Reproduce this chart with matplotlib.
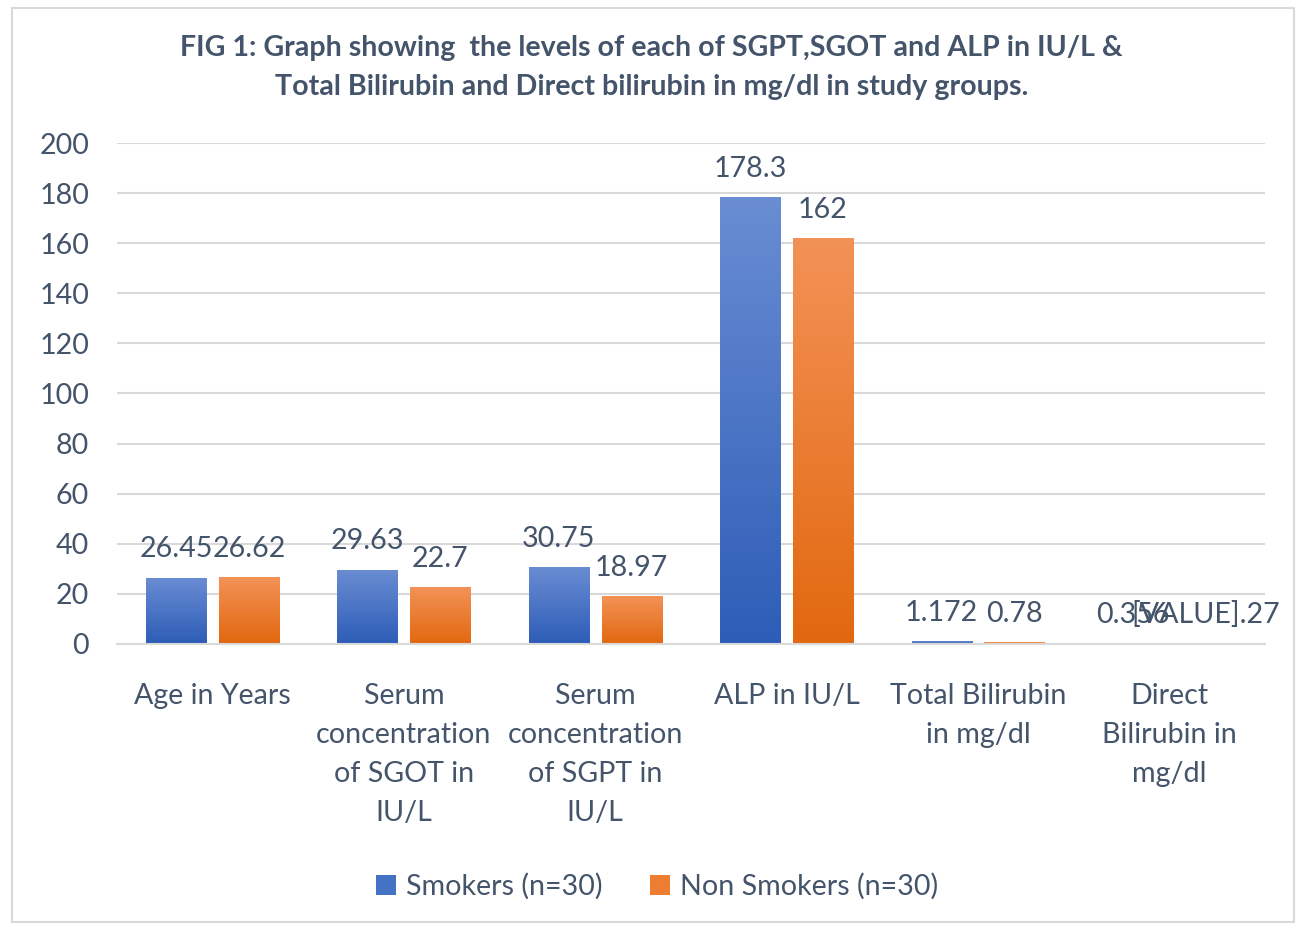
import numpy as np
import matplotlib.pyplot as plt
from matplotlib.patches import Rectangle, Patch

plt.rcParams['font.family'] = ['Lato', 'DejaVu Sans']

categories = ["Age in Years",
              "Serum\nconcentration\nof SGOT in\nIU/L",
              "Serum\nconcentration\nof SGPT in\nIU/L",
              "ALP in IU/L",
              "Total Bilirubin\nin mg/dl",
              "Direct\nBilirubin in\nmg/dl"]
smokers = [26.45, 29.63, 30.75, 178.3, 1.172, 0.356]
non_smokers = [26.62, 22.7, 18.97, 162, 0.78, 0.27]
smokers_labels = ["26.45", "29.63", "30.75", "178.3", "1.172", "0.356"]
non_smokers_labels = ["26.62", "22.7", "18.97", "162", "0.78", "[VALUE].27"]
series_names = ["Smokers (n=30)", "Non Smokers (n=30)"]

txt = '#44546A'
blue_top, blue_bot = '#6A8DD3', '#2D5DB7'
orange_top, orange_bot = '#F39257', '#E2680F'
fs = 20.6

fig = plt.figure(figsize=(12.98, 9.25), dpi=100)
fig.patches.append(Rectangle((12 / 1298, 3 / 925), 1282 / 1298, 914 / 925, transform=fig.transFigure,
                             fill=False, edgecolor='#D9D9D9', linewidth=1.5))
ax = fig.add_axes([0.090, 0.3038, 0.8846, 0.5416])

x = np.arange(len(categories))
w = 0.314
off = 0.19


def grad_bars(xs, vals, top, bot):
    bars = ax.bar(xs, vals, w, color='none', edgecolor='none', zorder=2)
    cmap = plt.matplotlib.colors.LinearSegmentedColormap.from_list('g', [bot, top])
    grad = np.linspace(0, 1, 256).reshape(-1, 1)
    for b in bars:
        x0, y0 = b.get_x(), b.get_y()
        im = ax.imshow(grad, cmap=cmap, origin='lower', aspect='auto',
                       extent=[x0, x0 + b.get_width(), y0, y0 + b.get_height()], zorder=2)
        im.set_clip_path(b)
    return bars


b1 = grad_bars(x - off, smokers, blue_top, blue_bot)
b2 = grad_bars(x + off, non_smokers, orange_top, orange_bot)

for xs, vals, labs in [(x - off, smokers, smokers_labels), (x + off, non_smokers, non_smokers_labels)]:
    for xi, v, lab in zip(xs, vals, labs):
        ax.annotate(lab, (xi, v), xytext=(0, 11), textcoords='offset points',
                    ha='center', va='bottom', fontsize=fs, color=txt)

ax.set_xlim(-0.5, len(categories) - 0.5)
ax.set_ylim(0, 200)
ax.set_yticks(range(0, 201, 20))
ax.set_xticks(x)
ax.set_xticklabels(categories, linespacing=1.62)
ax.tick_params(axis='both', length=0, labelsize=fs, labelcolor=txt)
ax.tick_params(axis='x', pad=28)
ax.tick_params(axis='y', pad=20)
ax.grid(axis='y', color='#D9D9D9', linewidth=1.5, zorder=0)
ax.set_axisbelow(True)
for s in ['top', 'right', 'left']:
    ax.spines[s].set_visible(False)
ax.spines['bottom'].set_color('#D9D9D9')
ax.spines['bottom'].set_linewidth(1.5)

fig.text(0.502, 0.927, "FIG 1: Graph showing  the levels of each of SGPT,SGOT and ALP in IU/L &\n"
         "Total Bilirubin and Direct bilirubin in mg/dl in study groups.",
         ha='center', va='center', fontsize=fs, fontweight='bold', color=txt, linespacing=1.62)

handles = [Patch(facecolor='#4472C4'), Patch(facecolor='#ED7D31')]
fig.legend(handles, series_names, loc='center', bbox_to_anchor=(0.506, 0.042), ncol=2,
           frameon=False, fontsize=fs, labelcolor=txt, handlelength=0.7, handleheight=0.7,
           handletextpad=0.35, columnspacing=1.65)

fig.savefig('out.png', dpi=100)
